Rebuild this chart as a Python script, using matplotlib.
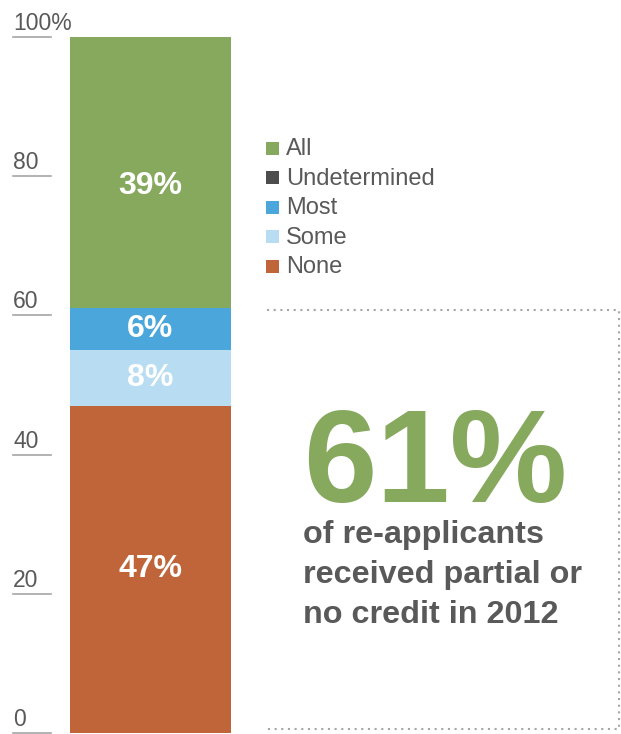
import matplotlib
matplotlib.use('Agg')
import matplotlib.pyplot as plt
from matplotlib.patches import Rectangle
from matplotlib.lines import Line2D
from matplotlib.transforms import blended_transform_factory, ScaledTranslation

plt.rcParams['font.family'] = ['Liberation Sans', 'DejaVu Sans']

# stacked shares (%), bottom to top
categories = ['None', 'Some', 'Most', 'Undetermined', 'All']
shares = [47, 8, 6, 0, 39]
colors = ['#C0653A', '#B8DCF1', '#4BA6DC', '#4D4D4D', '#86A95E']
legend_order = ['All', 'Undetermined', 'Most', 'Some', 'None']
yticks = [0, 20, 40, 60, 80, 100]
ytick_labels = ['0', '20', '40', '60', '80', '100%']
headline = '61%'
caption = ['of re-applicants', 'received partial or', 'no credit in 2012']

W, H = 621, 734
fig = plt.figure(figsize=(W / 100, H / 100), dpi=100)

# overlay axes in pixel units for free-placed items
ov = fig.add_axes([0, 0, 1, 1])
ov.set_xlim(0, W)
ov.set_ylim(H, 0)
ov.axis('off')

# bar axes: x 70..231 px, y 0 at 733 px, 100 at 37 px
ax = fig.add_axes([70 / W, (H - 733) / H, 161 / W, 696 / H])
ax.set_xlim(-0.5, 0.5)
ax.set_ylim(0, 100)
ax.axis('off')

# label nudges (px, downwards) so the top label sits a little low
nudge = [0, 0, 0, 0, 13]

bottom = 0
for name, val, c, dy in zip(categories, shares, colors, nudge):
    ax.bar(0, val, width=1.0, bottom=bottom, color=c, linewidth=0)
    if val > 0:
        off = ScaledTranslation(0, -dy / 100, fig.dpi_scale_trans)
        ax.text(0, bottom + val / 2, f'{val}%', ha='center', va='center',
                color='white', fontsize=23, fontweight='bold',
                transform=ax.transData + off)
    bottom += val

# y ticks: short grey rule under each label
tr = blended_transform_factory(ov.transData, ax.transData)
lift = ScaledTranslation(0, 7 / 100, fig.dpi_scale_trans)
for v, lab in zip(yticks, ytick_labels):
    ov.add_line(Line2D([13, 51], [v, v], transform=tr, color='#A6A6A6',
                       lw=1.2, clip_on=False))
    ov.text(13, v, lab, transform=tr + lift, ha='left', va='baseline',
            fontsize=16.5, color='#595959')

# legend
cmap = dict(zip(categories, colors))
for i, name in enumerate(legend_order):
    yc = 148 + i * 29.6
    ov.add_patch(Rectangle((266, yc - 6.5), 13, 13, color=cmap[name], lw=0))
    ov.text(286, yc + 1, name, ha='left', va='center', fontsize=17,
            color='#595959')

# dotted callout frame (open on the left)
dot = dict(color='#A6A6A6', lw=1.5, linestyle=(0, (1, 2.2)))
ov.add_line(Line2D([267, 619, 619, 267], [310, 310, 729, 729], **dot))

# headline figure and caption
ov.text(303, 502, headline, ha='left', va='baseline', fontsize=95,
        fontweight='bold', color='#86A95E')
for i, line in enumerate(caption):
    ov.text(303, 543 + i * 40, line, ha='left', va='baseline', fontsize=23.3,
            fontweight='bold', color='#595959')

fig.savefig('out.png', dpi=100)
